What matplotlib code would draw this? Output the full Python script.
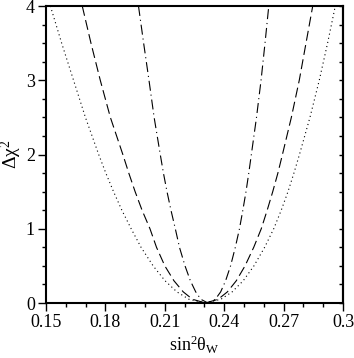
import numpy as np
import matplotlib
matplotlib.use("Agg")
from matplotlib import pyplot as plt
from matplotlib.ticker import MultipleLocator

plt.rcParams['font.family'] = ['Liberation Serif', 'DejaVu Serif']
plt.rcParams['mathtext.default'] = 'regular'

dchi2 = [0, 0.05, 0.15, 0.3, 0.5, 0.75, 1, 1.25, 1.5, 1.75, 2, 2.5, 3, 3.5, 4]

# sin^2 theta_W at each level, left branch and right branch
dotted_left = [0.2303, 0.2222, 0.2161, 0.2101, 0.2041, 0.1980, 0.1930, 0.1883, 0.1841, 0.1802, 0.1766, 0.1699, 0.1639, 0.1579, 0.1522]
dotted_right = [0.2303, 0.2383, 0.2440, 0.2496, 0.2550, 0.2604, 0.2650, 0.2688, 0.2722, 0.2752, 0.2780, 0.2833, 0.2880, 0.2922, 0.2961]
dashed_left = [0.2305, 0.2240, 0.2193, 0.2146, 0.2100, 0.2058, 0.2025, 0.1985, 0.1950, 0.1918, 0.1888, 0.1825, 0.1774, 0.1727, 0.1683]
dashed_right = [0.2305, 0.2369, 0.2416, 0.2461, 0.2505, 0.2549, 0.2587, 0.2617, 0.2645, 0.2671, 0.2694, 0.2739, 0.2779, 0.2813, 0.2847]
dashdot_left = [0.2318, 0.2282, 0.2256, 0.2229, 0.2202, 0.2174, 0.2153, 0.2131, 0.2111, 0.2093, 0.2077, 0.2046, 0.2020, 0.1993, 0.1967]
dashdot_right = [0.2318, 0.2355, 0.2382, 0.2407, 0.2432, 0.2456, 0.2477, 0.2494, 0.2510, 0.2524, 0.2537, 0.2563, 0.2586, 0.2606, 0.2625]

fig = plt.figure(figsize=(3.54, 3.58), dpi=100)
ax = fig.add_axes([0.130, 0.1536, 0.839, 0.8296])

curves = [
    (dotted_left, dotted_right, (0, (1, 2.8))),
    (dashed_left, dashed_right, (0, (9, 4))),
    (dashdot_left, dashdot_right, (0, (9, 3.5, 1, 3.5))),
]
for left, right, ls in curves:
    xs = list(reversed(left)) + right[1:]
    ys = list(reversed(dchi2)) + dchi2[1:]
    ax.plot(xs, ys, color='black', lw=0.8, linestyle=ls)

ax.set_xlim(0.15, 0.3)
ax.set_ylim(0, 4)
ax.xaxis.set_minor_locator(MultipleLocator(0.01))
ax.yaxis.set_major_locator(MultipleLocator(1))
ax.yaxis.set_minor_locator(MultipleLocator(0.25))
ax.set_xticks([0.15, 0.18, 0.21, 0.24, 0.27, 0.3])
ax.set_xticklabels(['0.15', '0.18', '0.21', '0.24', '0.27', '0.3'])

ax.tick_params(which='major', direction='out', length=6, width=1, labelsize=13, pad=2)
ax.tick_params(which='minor', direction='out', length=3, width=1)
for s in ax.spines.values():
    s.set_linewidth(1.5)

# inward ticks on the right side
sec = ax.secondary_yaxis('right')
sec.yaxis.set_major_locator(MultipleLocator(0.25))
sec.tick_params(direction='in', length=3, width=1, labelright=False)
sec.spines['right'].set_linewidth(1.5)

ax.set_xlabel(r'$sin^2\theta_W$', fontsize=13, labelpad=2)
ax.set_ylabel(r'$\Delta\chi^2$', fontsize=14, labelpad=1)

fig.savefig('out.png', dpi=100)
